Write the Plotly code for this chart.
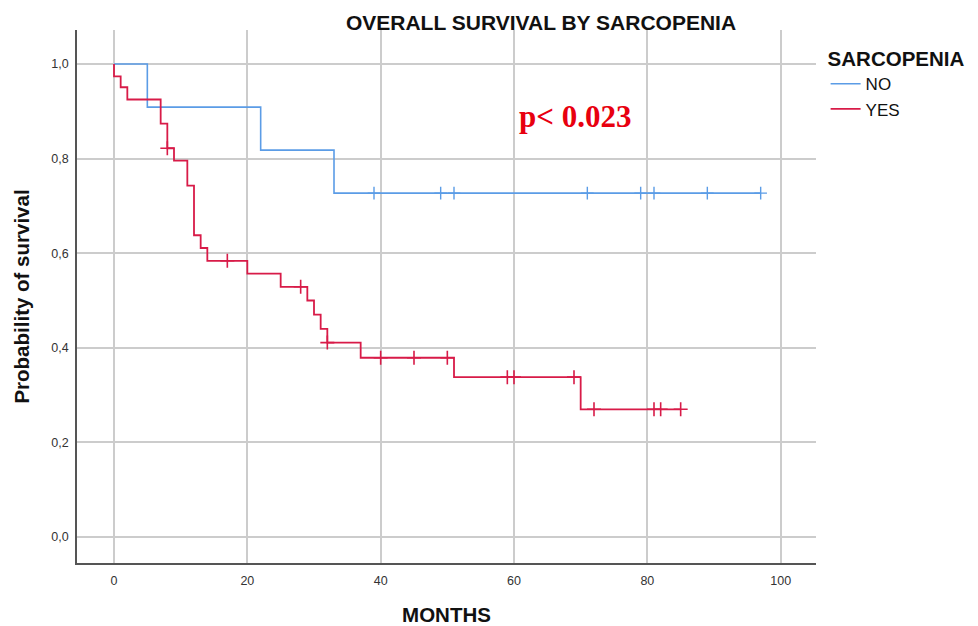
import plotly.graph_objects as go

# Kaplan-Meier step data (months, survival probability)
no_times = [0, 5, 22, 33, 97]
no_surv = [1.0, 0.909, 0.818, 0.727, 0.727]
no_cens_t = [39, 49, 51, 71, 79, 81, 89, 97]
no_cens_s = [0.727] * 8

yes_times = [0, 0, 1, 2, 7, 8, 9, 11, 12, 13, 14, 20, 25, 29, 30, 31, 32, 37, 51, 70, 85]
yes_surv = [1.0, 0.974, 0.951, 0.925, 0.874, 0.822, 0.796, 0.743, 0.638, 0.611, 0.584,
            0.557, 0.529, 0.500, 0.470, 0.440, 0.411, 0.379, 0.338, 0.270, 0.270]
yes_cens_t = [8, 17, 28, 32, 40, 45, 50, 59, 60, 69, 72, 81, 82, 85]
yes_cens_s = [0.822, 0.584, 0.529, 0.411, 0.379, 0.379, 0.379, 0.338, 0.338, 0.338,
              0.270, 0.270, 0.270, 0.270]

x_ticks = [0, 20, 40, 60, 80, 100]
y_ticks = [0.0, 0.2, 0.4, 0.6, 0.8, 1.0]

BLUE = "#5b9ce6"
RED = "#d81b48"

fig = go.Figure()
fig.add_trace(go.Scatter(x=no_times, y=no_surv, mode="lines", line_shape="hv",
                         line=dict(color=BLUE, width=1.6), name="NO"))
fig.add_trace(go.Scatter(x=yes_times, y=yes_surv, mode="lines", line_shape="hv",
                         line=dict(color=RED, width=1.8), name="YES"))
fig.add_trace(go.Scatter(x=no_cens_t, y=no_cens_s, mode="markers", showlegend=False,
                         marker=dict(symbol="cross-thin", size=9,
                                     line=dict(color=BLUE, width=1.4))))
fig.add_trace(go.Scatter(x=yes_cens_t, y=yes_cens_s, mode="markers", showlegend=False,
                         marker=dict(symbol="cross-thin", size=10,
                                     line=dict(color=RED, width=1.6))))

fig.add_annotation(x=0.674, xref="paper", y=0.837, yref="paper",
                   xanchor="center", yanchor="middle",
                   text="<b>p< 0.023</b>", showarrow=False,
                   font=dict(family="Liberation Serif", size=31, color="#e8000f"))

fig.update_layout(
    width=970, height=618,
    paper_bgcolor="white", plot_bgcolor="white",
    separators=",.",
    margin=dict(l=69, r=162, t=22, b=63, autoexpand=False),
    font=dict(family="Liberation Sans", color="#222222"),
    title=dict(text="<b>OVERALL SURVIVAL BY SARCOPENIA</b>", x=0.5495, xanchor="center",
               y=0.977, yanchor="middle", font=dict(size=21, color="#111111")),
    showlegend=True,
    legend=dict(x=1.013, xanchor="left", y=0.982, yanchor="top",
                title=dict(text="<b>SARCOPENIA</b>", font=dict(size=20.5, color="#111111")),
                font=dict(size=17, color="#111111"), tracegroupgap=0,
                bgcolor="rgba(0,0,0,0)"),
    xaxis=dict(range=[-5.55, 105.3], tickvals=x_ticks, tickformat="d",
               showgrid=True, gridcolor="#cccccc", gridwidth=1.5, zeroline=False,
               showline=True, linecolor="#555555", linewidth=1.5, automargin=False,
               ticks="", ticklabelstandoff=5, tickfont=dict(size=12.5, color="#333333"),
               title=dict(text="<b>MONTHS</b>", font=dict(size=20.5, color="#111111"),
                          standoff=34)),
    yaxis=dict(range=[-0.055, 1.072], tickvals=y_ticks, tickformat=".1f",
               showgrid=True, gridcolor="#cccccc", gridwidth=1.5, zeroline=False,
               showline=True, linecolor="#555555", linewidth=1.5, automargin=False,
               ticks="", ticklabelstandoff=4, tickfont=dict(size=12.5, color="#333333"),
               title=dict(text="<b>Probability of survival</b>",
                          font=dict(size=20.5, color="#111111"), standoff=16)),
)

fig.write_html("out.html")
